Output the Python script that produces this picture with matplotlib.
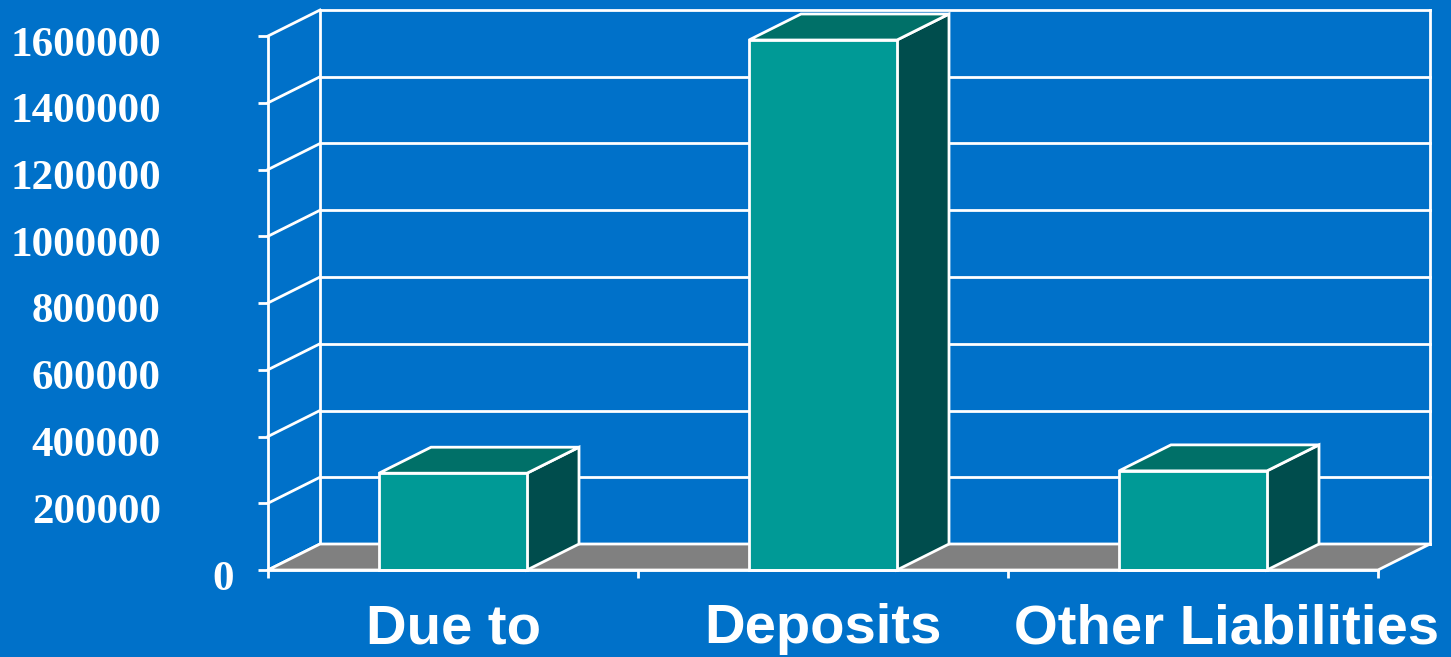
import matplotlib
matplotlib.use("Agg")
import matplotlib.pyplot as plt
from matplotlib.patches import Polygon, Rectangle
from matplotlib.transforms import ScaledTranslation

categories = ["Due to", "Deposits", "Other Liabilities"]
values = [290000, 1588000, 297000]
yticks = [0, 200000, 400000, 600000, 800000, 1000000, 1200000, 1400000, 1600000]
ytick_labels = [str(v) for v in yticks]

W, H, DPI = 1451, 657, 100
BG = "#0071C9"
FRONT = "#009A96"
TOP = "#007068"
SIDE = "#004D4D"
FLOOR = "#808080"
LW = 2.0

fig = plt.figure(figsize=(W / DPI, H / DPI), dpi=DPI, facecolor=BG)
ax = fig.add_axes([268 / W, 87 / H, 1110 / W, 534 / H])
ax.set_facecolor("none")
ax.set_xlim(0, 3)
ax.set_ylim(0, 1600000)

# depth offsets (in data units)
DX = 52 / 370
DY = 26 * 1600000 / 534

ncat = len(categories)
# back wall gridlines and side wall diagonals
for v in yticks:
    ax.plot([DX, ncat + DX], [v + DY, v + DY], color="white", lw=LW, clip_on=False, zorder=1)
    ax.plot([0, DX], [v, v + DY], color="white", lw=LW, clip_on=False, zorder=1)
ax.plot([DX, DX], [DY, yticks[-1] + DY], color="white", lw=LW, clip_on=False, zorder=1)
ax.plot([ncat + DX, ncat + DX], [DY, yticks[-1] + DY], color="white", lw=LW, clip_on=False, zorder=1)

# floor
floor = Polygon([(0, 0), (ncat, 0), (ncat + DX, DY), (DX, DY)], closed=True,
                facecolor=FLOOR, edgecolor="white", lw=LW, clip_on=False, zorder=2)
ax.add_patch(floor)

# bars
bw = 0.40
for i, v in enumerate(values):
    x0 = i + 0.5 - bw / 2
    x1 = i + 0.5 + bw / 2
    side = Polygon([(x1, 0), (x1 + DX, DY), (x1 + DX, v + DY), (x1, v)], closed=True,
                   facecolor=SIDE, edgecolor="white", lw=LW, clip_on=False, zorder=3,
                   joinstyle="miter")
    top = Polygon([(x0, v), (x1, v), (x1 + DX, v + DY), (x0 + DX, v + DY)], closed=True,
                  facecolor=TOP, edgecolor="white", lw=LW, clip_on=False, zorder=3,
                  joinstyle="miter")
    front = Rectangle((x0, 0), bw, v, facecolor=FRONT, edgecolor="white", lw=LW,
                      clip_on=False, zorder=4, joinstyle="miter")
    ax.add_patch(side)
    ax.add_patch(top)
    ax.add_patch(front)

# spines
for s in ["top", "right"]:
    ax.spines[s].set_visible(False)
for s in ["left", "bottom"]:
    ax.spines[s].set_color("white")
    ax.spines[s].set_linewidth(LW)
    ax.spines[s].set_zorder(5)

# y axis
ax.set_yticks(yticks)
ax.set_yticklabels(ytick_labels)
ax.tick_params(axis="y", direction="out", length=7.2, width=LW, color="white",
               pad=70, labelcolor="white")
for lab in ax.get_yticklabels():
    lab.set_fontfamily("Liberation Serif")
    lab.set_fontweight("bold")
    lab.set_fontsize(31)

# x axis: major ticks at category boundaries, labels at centres
ax.set_xticks(list(range(ncat + 1)))
ax.set_xticklabels([""] * (ncat + 1))
ax.tick_params(axis="x", which="major", direction="out", length=6, width=LW, color="white")
ax.set_xticks([i + 0.5 for i in range(ncat)], minor=True)
ax.set_xticklabels(categories, minor=True)
ax.tick_params(axis="x", which="minor", length=0, pad=24, labelcolor="white")
for lab in ax.get_xticklabels(minor=True):
    lab.set_fontfamily("Liberation Sans")
    lab.set_fontweight("bold")
    lab.set_fontsize(40.5)

fig.canvas.draw()
ylabs = ax.get_yticklabels()
for lab in ylabs:
    lab.set_transform(lab.get_transform() + ScaledTranslation(0, -5 / DPI, fig.dpi_scale_trans))
ylabs[0].set_transform(ylabs[0].get_transform() + ScaledTranslation(73 / DPI, 0, fig.dpi_scale_trans))
xlabs = ax.get_xticklabels(minor=True)
xlabs[2].set_transform(xlabs[2].get_transform() + ScaledTranslation(33 / DPI, 0, fig.dpi_scale_trans))

fig.savefig("out.png", dpi=DPI, facecolor=BG)
